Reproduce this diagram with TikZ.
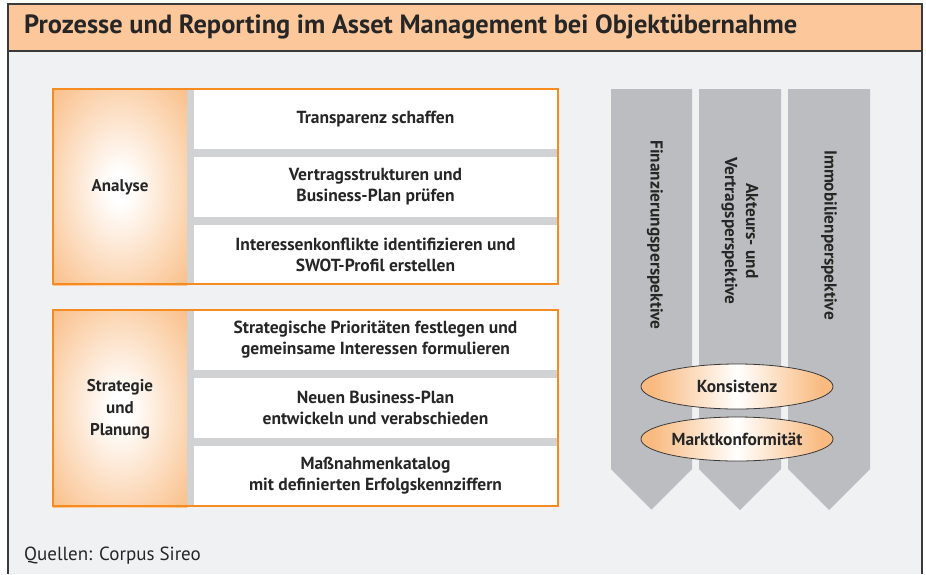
\documentclass[tikz,border=0pt]{standalone}
\usepackage{fontspec}
\setmainfont{PT Sans}
\usetikzlibrary{shapes.geometric}

\definecolor{headfill}{HTML}{FCC89B}
\definecolor{panel}{HTML}{F0F1F3}
\definecolor{frameline}{HTML}{3A3A3A}
\definecolor{accent}{HTML}{F68B1F}
\definecolor{glow}{HTML}{F9BA80}
\definecolor{divider}{HTML}{D1D2D4}
\definecolor{pillar}{HTML}{BCBDC0}
\definecolor{ink}{HTML}{262626}

% soft orange glow with a white core
\pgfdeclareradialshading{cellglow}{\pgfpoint{0bp}{0bp}}{%
  color(0bp)=(white); color(4bp)=(white); color(38bp)=(glow); color(60bp)=(glow)}
\pgfdeclarehorizontalshading{pillglow}{100bp}{%
  color(0bp)=(glow); color(28bp)=(glow); color(50bp)=(white);
  color(72bp)=(glow); color(100bp)=(glow)}

\tikzset{
  labelcell/.style={shading=cellglow, inner sep=0pt, align=center,
    font=\fontsize{17}{22}\selectfont\bfseries, text=ink},
  rowcell/.style={fill=white, inner sep=0pt, align=center,
    minimum width=363, font=\fontsize{17.5}{21}\selectfont\bfseries, text=ink},
  pillarlabel/.style={rotate=-90, align=center,
    font=\fontsize{17.3}{21}\selectfont\bfseries, text=ink},
  pill/.style={ellipse, shading=pillglow, draw=frameline, line width=0.8pt,
    minimum width=192, inner sep=0pt,
    font=\fontsize{17.4}{20}\selectfont\bfseries, text=ink},
  blockframe/.style={draw=accent, line width=1.2pt},
  pillarshape/.style={fill=pillar},
}

\begin{document}
\begin{tikzpicture}[x=1pt, y=-1pt]
  \useasboundingbox (0,0) rectangle (926,574);

  % page frame with header band
  \fill[panel] (8,51) rectangle (922,574);
  \fill[headfill] (8,4) rectangle (922,51);
  \draw[frameline, line width=1.3pt] (8,574) -- (8,4) -- (922,4) -- (922,574);
  \draw[frameline, line width=1.3pt] (8,51) -- (922,51);
  \node[anchor=base west, inner sep=0pt, text=ink,
        font=\fontsize{26.4}{30}\selectfont\bfseries] (title) at (24,33)
    {Prozesse und Reporting im Asset Management bei Objektübernahme};

  % block: Analyse
  \fill[divider] (187,89) rectangle (557,284);
  \node[labelcell, minimum width=134, minimum height=195] (analyse) at (120,187.5) {Analyse};
  \node[rowcell, minimum height=60] (a1) at (375.5,119) {Transparenz schaffen};
  \node[rowcell, minimum height=60] (a2) at (375.5,187) {Vertragsstrukturen und\\Business-Plan prüfen};
  \node[rowcell, minimum height=59] (a3) at (375.5,254.5) {Interessenkonflikte identifizieren und\\SWOT-Profil erstellen};
  \draw[blockframe] (53,89) rectangle (558,284);

  % block: Strategie und Planung
  \fill[divider] (187,310) rectangle (557,506);
  \node[labelcell, minimum width=134, minimum height=196] (strategie) at (120,409) {Strategie\\und\\Planung};
  \node[rowcell, minimum height=60] (s1) at (375.5,340) {Strategische Prioritäten festlegen und\\gemeinsame Interessen formulieren};
  \node[rowcell, minimum height=60] (s2) at (375.5,408) {Neuen Business-Plan\\entwickeln und verabschieden};
  \node[rowcell, minimum height=60] (s3) at (375.5,476) {Maßnahmenkatalog\\mit definierten Erfolgskennziffern};
  \draw[blockframe] (53,310) rectangle (558,506);

  % three perspective pillars
  \foreach \xl/\xr in {611/692, 699/781, 788/870}{
    \fill[pillarshape] (\xl,89) -- (\xr,89) -- (\xr,469)
      -- ({(\xl+\xr)/2},{469+(\xr-\xl)/2}) -- (\xl,469) -- cycle;
  }
  \node[pillarlabel] (fin) at (655,235) {Finanzierungsperspektive};
  \node[pillarlabel] (akt) at (740,231) {Akteurs- und\\Vertragsperspektive};
  \node[pillarlabel] (imm) at (829,235) {Immobilienperspektive};

  % cross-cutting criteria
  \node[pill, minimum height=45] (kons) at (737,386.5) {Konsistenz};
  \node[pill, minimum height=44] (markt) at (737,439) {Marktkonformität};

  % source line
  \node[anchor=base west, inner sep=0pt, text=ink,
        font=\fontsize{19}{22}\selectfont] (source) at (24,560) {Quellen: Corpus Sireo};
\end{tikzpicture}
\end{document}
